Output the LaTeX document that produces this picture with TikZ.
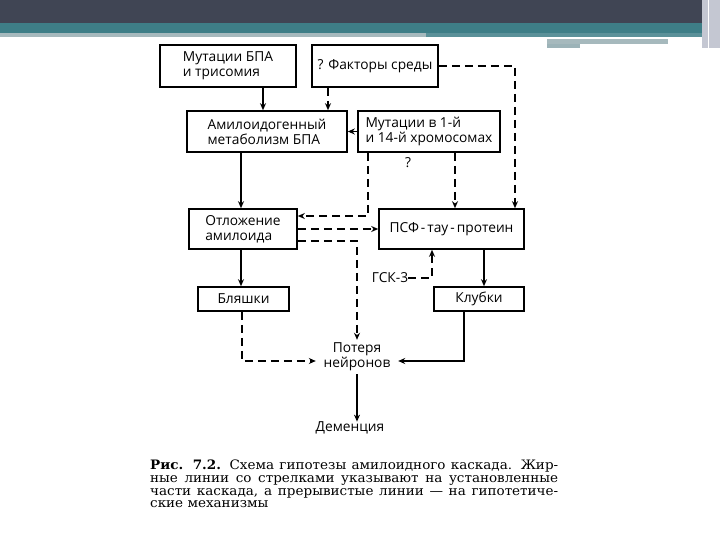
\documentclass[tikz,border=0pt]{standalone}
\usepackage{fontspec}
\setmainfont{Open Sans}
\newfontfamily\capfont[FakeStretch=1.04]{DejaVu Serif}
\usetikzlibrary{arrows.meta,calc}

\definecolor{slate}{RGB}{64,69,84}
\definecolor{teal}{RGB}{62,126,135}
\definecolor{mist}{RGB}{166,185,189}
\definecolor{haze}{RGB}{196,199,210}

\begin{document}
\begin{tikzpicture}[x=1pt, y=-1pt,
    box/.style={draw, line width=1.6pt, align=left, inner sep=0pt,
      font=\fontsize{13.75}{15}\selectfont},
    lbl/.style={align=center, inner sep=0pt, font=\fontsize{13.75}{15}\selectfont},
    firm/.style={line width=1.6pt, -{Stealth[length=7pt,width=6pt]}},
    guess/.style={line width=1.6pt, dash pattern=on 8pt off 5pt, -{Stealth[length=7pt,width=6pt]}}]
  \useasboundingbox (0,0) rectangle (720,540);
  \fill[slate] (0,0) rectangle (720,23);
  \fill[teal] (0,23) rectangle (720,33);
  \fill[mist] (0,33) rectangle (426,37);
  \fill[teal!85!white] (426,33) rectangle (702,37);
  \fill[mist] (547,39) rectangle (668,44);
  \fill[mist!90!teal] (547,44) rectangle (580,48);
  \fill[haze] (702,0) rectangle (720,48);
  \draw[white, line width=1pt] (708,0) -- (708,48);

  \node[box, minimum width=136pt, minimum height=42pt] (mutBPA) at (228,66) {Мутации БПА\\и трисомия};
  \node[box, minimum width=126pt, minimum height=42pt] (factors) at (375,66) {? Факторы среды};
  \node[box, minimum width=160pt, minimum height=41pt] (amyMet) at (267,131.5) {Амилоидогенный\\метаболизм БПА};
  \node[box, minimum width=142pt, minimum height=41pt] (mutChr) at (429,131.5) {Мутации в 1-й\\и 14-й хромосомах};
  \node[box, minimum width=108pt, minimum height=40pt] (deposit) at (243,229) {Отложение\\амилоида};
  \node[box, minimum width=145pt, minimum height=40pt] (tau) at (451.5,229) {ПСФ\hspace{2pt}-\hspace{2pt}тау\hspace{2pt}-\hspace{2pt}протеин};
  \node[box, minimum width=91pt, minimum height=24pt] (plaques) at (243.5,299) {Бляшки};
  \node[box, minimum width=90pt, minimum height=24pt] (tangles) at (479,299) {Клубки};
  \node[lbl, minimum width=82pt, minimum height=34pt] (loss) at (357,357) {Потеря\\нейронов};
  \node[lbl] (dementia) at (350,428) {Деменция};
  \node[lbl] (gsk) at (390,278) {ГСК-3};
  \node[lbl] (query) at (408,163) {?};

  \draw[firm] ([xshift=35pt]mutBPA.south) coordinate (a1) -- (a1 |- amyMet.north);
  \draw[guess] ([xshift=-47pt]factors.south) coordinate (a2) -- (a2 |- amyMet.north);
  \draw[firm] (mutChr.west) -- (amyMet.east);
  \draw[guess] (factors.east) -| ([xshift=63.5pt]tau.north);
  \draw[guess] ([xshift=-61pt]mutChr.south) |- ([yshift=13pt]deposit.east);
  \draw[guess] ([xshift=26pt]mutChr.south) coordinate (a3) -- (a3 |- tau.north);
  \draw[firm] ([xshift=-2pt]amyMet.south -| deposit.north) coordinate (a4) -- (a4 |- deposit.north);
  \draw[guess] (deposit.east) -- (tau.west);
  \draw[guess] ([yshift=-12pt]deposit.east) -| (loss.north);
  \draw[firm] ([xshift=-2pt]deposit.south) coordinate (a5) -- (a5 |- plaques.north);
  \draw[firm] ([xshift=32.5pt]tau.south) coordinate (a6) -- (a6 |- tangles.north);
  \draw[guess] (gsk.east) -| ([xshift=-19.5pt]tau.south);
  \draw[guess] ([xshift=-1.5pt]plaques.south) |- ([yshift=-4pt]loss.west);
  \draw[firm] ([xshift=-15pt]tangles.south) |- ([yshift=-4pt]loss.east);
  \draw[firm] (loss.south) -- (loss.south |- dementia.north);

  \node[anchor=north west, align=left, inner sep=0pt,
    font=\capfont\fontsize{13}{12.7}\selectfont] (caption) at (150,460)
    {\makebox[408pt][s]{\textbf{Рис. 7.2.} Схема гипотезы амилоидного каскада. Жир-}\\
     \makebox[408pt][s]{ные линии со стрелками указывают на установленные}\\
     \makebox[408pt][s]{части каскада, а прерывистые линии — на гипотетиче-}\\
     ские механизмы};
\end{tikzpicture}
\end{document}
